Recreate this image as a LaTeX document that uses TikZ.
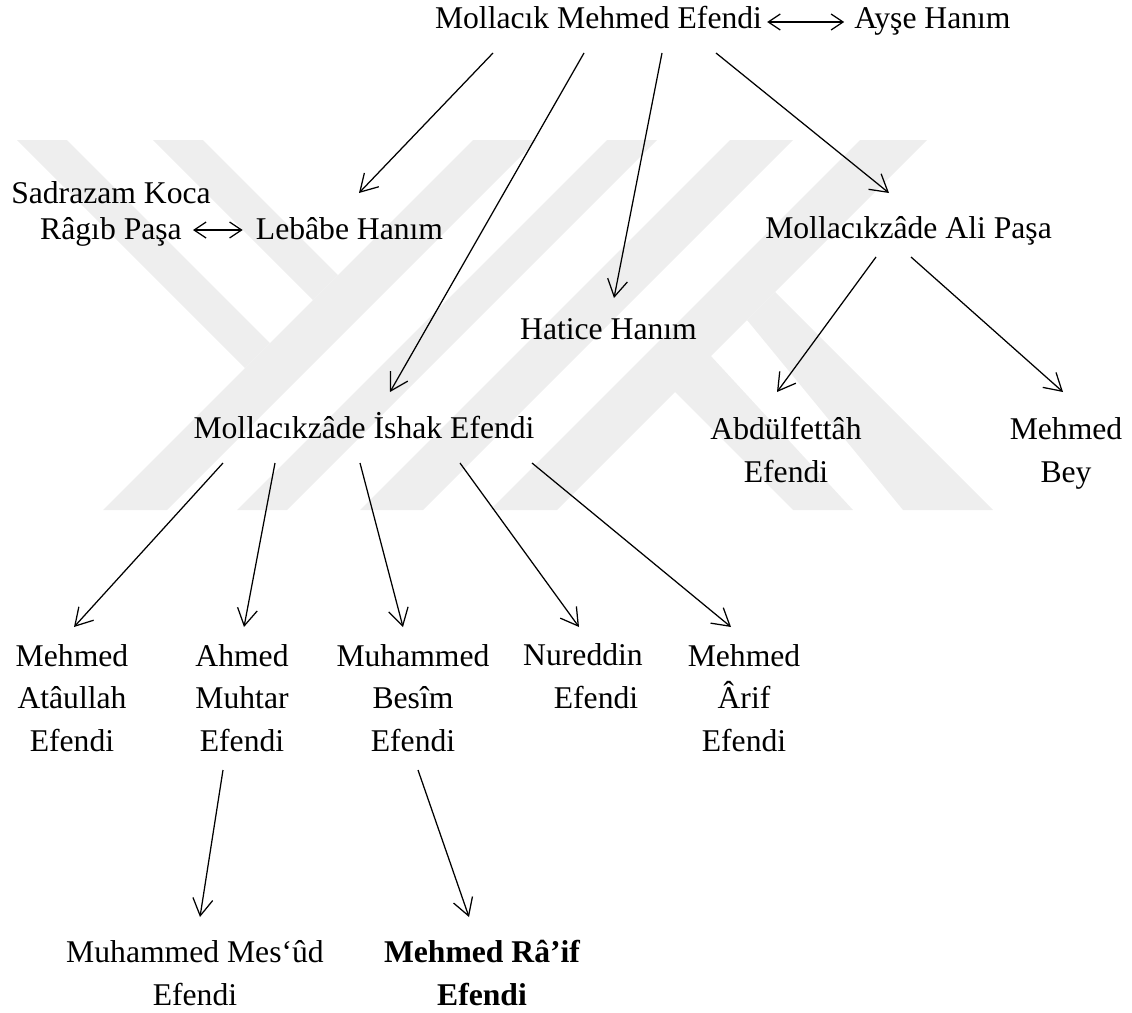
\documentclass[tikz,border=0pt]{standalone}
\usepackage{fontspec}
\setmainfont{Liberation Serif}
\usetikzlibrary{arrows.meta,calc}
\definecolor{wm}{RGB}{238,238,238}
\tikzset{
  person/.style={anchor=base, inner sep=0pt, align=center, font={\fontsize{31.65}{42.5}\selectfont}},
  kin/.style={-{Straight Barb[length=17pt,width=20pt]}, line width=1.25pt},
  spouse/.style={{Straight Barb[length=12pt,width=16pt]}-{Straight Barb[length=12pt,width=16pt]}, line width=1.25pt},
  band/.style={fill=wm, draw=none},
}
\begin{document}
\begin{tikzpicture}[x=1pt,y=-1pt]
\useasboundingbox (0,0) rectangle (1132,1012);
% watermark
\fill[band] (17,140) -- (67,140) -- (270,343) -- (245,368) -- cycle;
\fill[band] (153,140) -- (203,140) -- (338,275) -- (313,300) -- cycle;
\fill[band] (473,140) -- (537,140) -- (167,510) -- (103,510) -- cycle;
\fill[band] (607,140) -- (657,140) -- (287,510) -- (237,510) -- cycle;
\fill[band] (730,140) -- (793,140) -- (423,510) -- (360,510) -- cycle;
\fill[band] (860,140) -- (927,140) -- (557,510) -- (490,510) -- cycle;
\fill[band] (747,320) -- (775,292) -- (993,510) -- (903,510) -- cycle;
\fill[band] (673,390) -- (710,355) -- (853,510) -- (793,510) -- cycle;
% people (multi-line nodes are placed at the baseline of their last line)
\node[person] (mme) at (598.5,28.5) {Mollacık Mehmed Efendi};
\node[person] (ayse) at (932.5,28.5) {Ayşe Hanım};
\node[person, font={\fontsize{31.65}{36}\selectfont}] (ragib) at (111,239) {Sadrazam Koca\\Râgıb Paşa};
\node[person] (lebabe) at (349.5,239) {Lebâbe Hanım};
\node[person] (ali) at (908.5,238) {Mollacıkzâde Ali Paşa};
\node[person] (hatice) at (608.5,339) {Hatice Hanım};
\node[person] (ishak) at (364,438) {Mollacıkzâde İshak Efendi};
\node[person] (abdul) at (786,482) {Abdülfettâh\\Efendi};
\node[person] (mbey) at (1066,482) {Mehmed\\Bey};
\node[person] (ata) at (72,751) {Mehmed\\Atâullah\\Efendi};
\node[person] (muhtar) at (242,751) {Ahmed\\Muhtar\\Efendi};
\node[person] (besim) at (413,751) {Muhammed\\Besîm\\Efendi};
\node[person] (nureddin) at (583,708) {Nureddin\\\hspace*{26pt}Efendi};
\node[person] (arif) at (744,751) {Mehmed\\Ârif\\Efendi};
\node[person] (mesud) at (195,1005) {Muhammed Mes‘ûd\\Efendi};
\node[person, font={\fontsize{31.65}{42.5}\selectfont\bfseries}] (raif) at (482,1005) {Mehmed Râ’if\\Efendi};
% marriages
\draw[spouse] ([shift={(5,-6.5)}]mme.base east) -- ([shift={(-10,-6.5)}]ayse.base west);
\draw[spouse] ([shift={(82,-9)}]ragib.base) -- ([shift={(-13,-9)}]lebabe.base west);
% descent
\draw[kin] ([shift={(-105.5,24.5)}]mme.base) -- ([shift={(9.5,-46)}]lebabe.base);
\draw[kin] ([shift={(-14.5,24.5)}]mme.base) -- ([shift={(26,-46)}]ishak.base);
\draw[kin] ([shift={(63.5,24.5)}]mme.base) -- ([shift={(5.5,-41)}]hatice.base);
\draw[kin] ([shift={(117.5,24.5)}]mme.base) -- ([shift={(-19.5,-45)}]ali.base);
\draw[kin] ([shift={(-32.5,19)}]ali.base) -- ([shift={(-9,-90)}]abdul.base);
\draw[kin] ([shift={(2.5,19)}]ali.base) -- ([shift={(-3,-90)}]mbey.base);
\draw[kin] ([shift={(-141,25)}]ishak.base) -- ([shift={(2,-124)}]ata.base);
\draw[kin] ([shift={(-89,25)}]ishak.base) -- ([shift={(2,-124)}]muhtar.base);
\draw[kin] ([shift={(-4,25)}]ishak.base) -- ([shift={(-10,-124)}]besim.base);
\draw[kin] ([shift={(96,25)}]ishak.base) -- ([shift={(-4,-81)}]nureddin.base);
\draw[kin] ([shift={(168,25)}]ishak.base) -- ([shift={(-13,-124)}]arif.base);
\draw[kin] ([shift={(-19,19)}]muhtar.base) -- ([shift={(5,-88)}]mesud.base);
\draw[kin] ([shift={(5,19)}]besim.base) -- ([shift={(-13,-88)}]raif.base);
\end{tikzpicture}
\end{document}
